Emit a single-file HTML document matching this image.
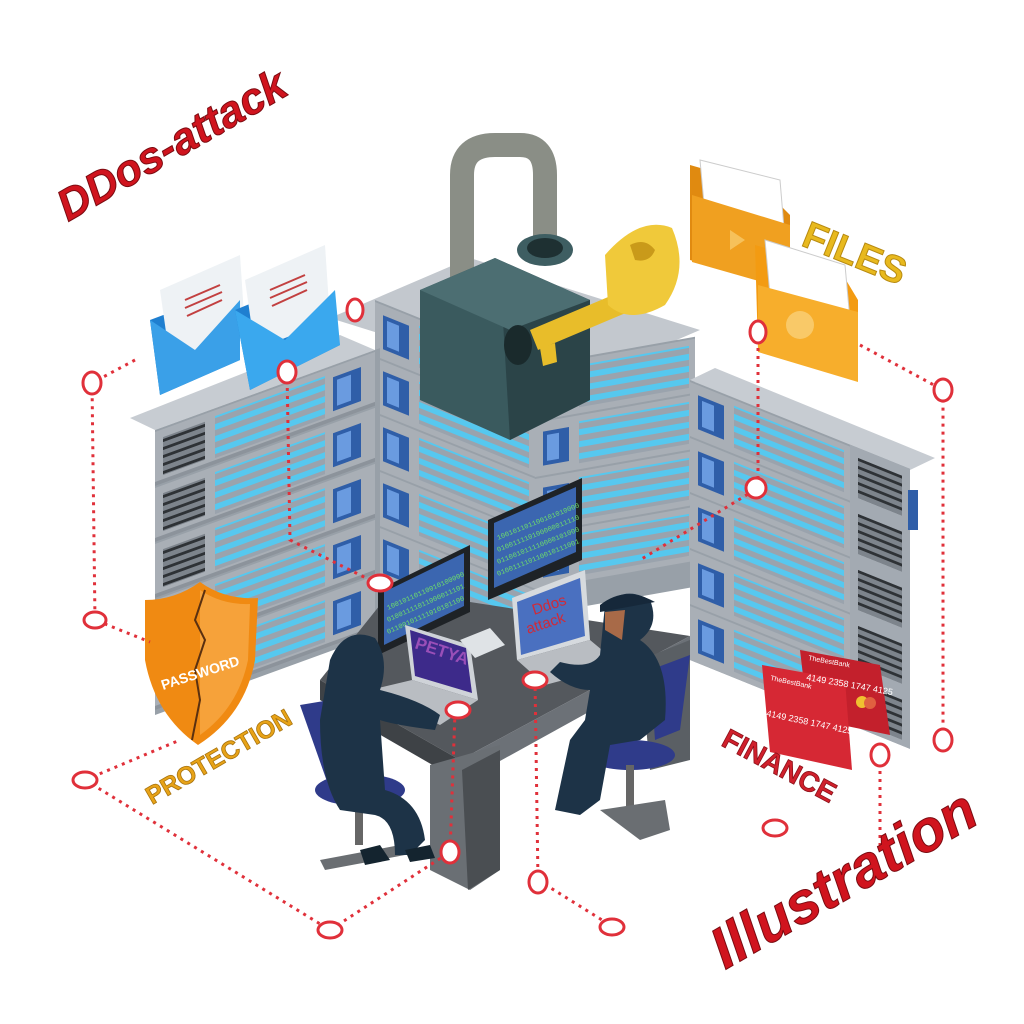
<!DOCTYPE html>
<html><head><meta charset="utf-8"><style>html,body{margin:0;padding:0;background:#fff}svg{display:block}</style></head>
<body>
<svg width="1024" height="1024" viewBox="0 0 1024 1024" xmlns="http://www.w3.org/2000/svg" font-family="Liberation Sans, sans-serif">
<defs>
<pattern id="stripes" width="10" height="12" patternUnits="userSpaceOnUse"><rect width="10" height="12" fill="#9aa3ad"/><rect y="2" width="10" height="6" fill="#56c8ef"/></pattern>
<pattern id="vent" width="10" height="8" patternUnits="userSpaceOnUse"><rect width="10" height="8" fill="#7d848c"/><rect y="2" width="10" height="3" fill="#2e3236"/></pattern>
<g id="row">
<rect x="0" y="0" width="220" height="54" fill="#a9afb6"/>
<rect x="0" y="50" width="220" height="4" fill="#8c939b"/>
<rect x="8" y="8" width="42" height="38" fill="url(#vent)"/>
<rect x="60" y="6" width="110" height="42" fill="url(#stripes)"/>
<rect x="178" y="10" width="28" height="34" fill="#2f5ea8"/>
<rect x="182" y="14" width="14" height="26" fill="#6a9be0"/>
</g>
<g id="crow">
<rect x="0" y="0" width="160" height="54" fill="#a9afb6"/>
<rect x="8" y="10" width="26" height="34" fill="#2f5ea8"/>
<rect x="12" y="14" width="12" height="26" fill="#6a9be0"/>
<rect x="44" y="6" width="110" height="42" fill="url(#stripes)"/>
</g>
</defs>
<rect width="1024" height="1024" fill="#fff"/>

<!-- center back racks -->
<polygon points="330,318 470,258 700,330 560,390" fill="#c3c8ce"/>
<g transform="translate(375,300) skewY(22)">
<rect x="0" y="0" width="160" height="275" fill="#98a0a8"/>
<use href="#crow" y="2"/><use href="#crow" y="58"/><use href="#crow" y="114"/><use href="#crow" y="170"/><use href="#crow" y="226"/>
</g>
<g transform="translate(535,365) skewY(-10)">
<rect x="0" y="0" width="160" height="250" fill="#98a0a8"/>
<use href="#crow" y="2"/><use href="#crow" y="58"/><use href="#crow" y="114"/><use href="#crow" y="170"/>
</g>

<!-- right rack -->
<polygon points="690,380 715,368 935,458 910,470" fill="#c7ccd2"/>
<g transform="translate(690,380) skewY(22)">
<rect x="0" y="0" width="220" height="280" fill="#98a0a8"/>
<use href="#crow" y="2"/>
<use href="#crow" y="58"/><use href="#crow" y="114"/><use href="#crow" y="170"/><use href="#crow" y="226"/>
<rect x="160" y="0" width="60" height="280" fill="#a3aab2"/>
<rect x="168" y="10" width="44" height="40" fill="url(#vent)"/>
<rect x="168" y="66" width="44" height="40" fill="url(#vent)"/>
<rect x="168" y="122" width="44" height="40" fill="url(#vent)"/>
<rect x="168" y="178" width="44" height="40" fill="url(#vent)"/>
<rect x="168" y="234" width="44" height="40" fill="url(#vent)"/>
</g>
<rect x="908" y="490" width="10" height="40" fill="#2f5ea8"/>

<!-- left rack -->
<polygon points="155,430 375,350 340,335 130,418" fill="#c7ccd2"/>
<g transform="translate(155,430) skewY(-20)">
<rect x="0" y="0" width="225" height="285" fill="#98a0a8"/>
<use href="#row" y="2"/><use href="#row" y="58"/><use href="#row" y="114"/><use href="#row" y="170"/><use href="#row" y="226"/>
</g>

<!-- padlock -->
<path d="M462,290 L462,175 Q462,145 495,145 L520,145 Q545,145 545,175 L545,240" fill="none" stroke="#8a8e86" stroke-width="24"/>
<polygon points="420,290 495,258 590,300 590,400 510,440 420,400" fill="#3a5a5e"/>
<polygon points="500,270 590,300 590,400 510,440" fill="#2b4448"/>
<polygon points="420,290 495,258 590,300 510,330" fill="#4c6e72"/>
<ellipse cx="545" cy="250" rx="28" ry="16" fill="#3e5e62"/>
<ellipse cx="545" cy="248" rx="18" ry="10" fill="#1e3032"/>
<ellipse cx="518" cy="345" rx="14" ry="20" fill="#1a2a2c"/>
<!-- key -->
<polygon points="530,330 620,292 628,312 538,350" fill="#e8bd2a"/>
<polygon points="540,348 555,343 557,362 543,366" fill="#e8bd2a"/>
<path d="M605,255 Q640,215 672,228 Q690,270 665,305 Q630,325 608,305 Z" fill="#f0c93a"/>
<path d="M630,245 Q645,237 655,250 Q650,263 635,260 Z" fill="#c99a1a"/>

<!-- folders -->
<polygon points="690,165 760,185 790,215 790,290 690,260" fill="#e08a10"/>
<polygon points="700,160 780,180 785,240 705,215" fill="#fff" stroke="#ccc"/>
<polygon points="692,195 790,225 790,290 692,262" fill="#f0a020"/>
<polygon points="730,230 745,240 730,250" fill="#f6c15a"/>
<polygon points="755,245 840,270 858,300 858,380 758,350" fill="#f39b12"/>
<polygon points="765,240 845,265 850,320 770,295" fill="#fff" stroke="#ccc"/>
<polygon points="758,285 858,312 858,382 758,352" fill="#f7ae2c"/>
<circle cx="800" cy="325" r="14" fill="#f9c968"/>
<text x="0" y="0" font-size="38" font-weight="bold" fill="#e8b91e" stroke="#b78a10" stroke-width="1" transform="translate(800,245) rotate(22)">FILES</text>

<!-- envelopes -->
<polygon points="150,320 230,290 240,360 160,395" fill="#1f7fd0"/>
<polygon points="160,290 240,255 245,330 170,360" fill="#eef2f5"/>
<polygon points="150,320 195,350 240,300 240,360 160,395" fill="#3aa0e8"/>
<polygon points="235,310 320,275 340,345 250,390" fill="#1f7fd0"/>
<polygon points="245,280 325,245 330,320 255,350" fill="#eef2f5"/>
<polygon points="235,310 285,340 335,290 340,345 250,390" fill="#3aa8ee"/>
<g stroke="#c24040" stroke-width="2"><line x1="185" y1="300" x2="220" y2="285"/><line x1="185" y1="308" x2="222" y2="292"/><line x1="187" y1="316" x2="222" y2="300"/><line x1="270" y1="290" x2="305" y2="275"/><line x1="270" y1="298" x2="307" y2="282"/><line x1="272" y1="306" x2="307" y2="290"/></g>

<!-- desk -->
<polygon points="320,680 392,590 690,636 460,760" fill="#54585d"/>
<polygon points="320,680 460,760 462,782 320,700" fill="#3e4246"/>
<polygon points="460,760 690,636 690,656 462,782" fill="#6c7177"/>
<polygon points="430,765 500,745 500,870 470,890 430,870" fill="#6a6f74"/>
<polygon points="462,770 500,750 500,870 468,890" fill="#4a4e52"/>
<polygon points="640,660 690,640 690,760 650,770" fill="#5a5f64"/>

<!-- monitors -->
<polygon points="378,590 470,545 470,612 378,655" fill="#1e2226"/>
<polygon points="384,592 464,553 464,606 384,645" fill="#3b66b0"/>
<polygon points="488,520 582,478 582,560 488,600" fill="#1e2226"/>
<polygon points="494,523 576,487 576,552 494,588" fill="#3b66b0"/>
<g fill="#6fe06a" font-size="7" font-family="Liberation Mono, monospace">
<text transform="translate(498,540) rotate(-22)">100101101100101010000</text>
<text transform="translate(498,552) rotate(-22)">010011110100000011110</text>
<text transform="translate(498,564) rotate(-22)">011001011110000101000</text>
<text transform="translate(498,576) rotate(-22)">010011110110010111001</text>
<text transform="translate(388,610) rotate(-24)">10010110110010100000</text>
<text transform="translate(388,622) rotate(-24)">01001111011000011101</text>
<text transform="translate(388,634) rotate(-24)">01100101111010101100</text>
</g>
<!-- laptops -->
<polygon points="405,625 470,645 478,700 412,680" fill="#cfd3d8"/>
<polygon points="410,630 466,648 472,693 415,676" fill="#3d2a8a"/>
<text transform="translate(414,648) rotate(18)" font-size="17" fill="#9a4fb8" font-weight="bold">PETYA</text>
<polygon points="370,690 412,680 478,700 440,725" fill="#b9bdc2"/>
<polygon points="512,598 585,570 590,640 517,660" fill="#d6dade"/>
<polygon points="517,602 580,578 585,636 521,655" fill="#4a70c0"/>
<text transform="translate(534,615) rotate(-18)" font-size="15" fill="#d02a38">Ddos</text>
<text transform="translate(528,634) rotate(-18)" font-size="15" fill="#d02a38">attack</text>
<polygon points="517,660 590,640 620,665 545,685" fill="#b9bdc2"/>
<polygon points="460,640 490,628 505,645 475,658" fill="#dfe3e6"/>

<!-- left hacker -->
<polygon points="300,705 330,700 355,780 330,790" fill="#2f3b8a"/>
<ellipse cx="360" cy="790" rx="45" ry="16" fill="#2f3b8a"/>
<rect x="355" y="800" width="8" height="45" fill="#666"/>
<polygon points="320,860 400,845 405,855 325,870" fill="#6a6e72"/>
<path d="M330,660 Q345,625 375,638 Q390,660 380,690 Q420,700 440,715 L435,730 Q395,725 380,720 L385,790 Q420,800 425,840 L410,855 L395,855 Q395,820 375,815 L340,810 Q320,780 320,720 Z" fill="#1d3347"/>
<polygon points="360,850 380,845 390,860 365,865" fill="#14242f"/>
<polygon points="405,850 430,845 435,858 410,862" fill="#14242f"/>
<!-- right hacker -->
<polygon points="650,670 690,655 680,730 655,740" fill="#2f3b8a"/>
<ellipse cx="630" cy="755" rx="45" ry="15" fill="#2f3b8a"/>
<rect x="626" y="765" width="8" height="45" fill="#666"/>
<polygon points="600,810 665,800 670,830 640,840" fill="#6a6e72"/>
<path d="M605,605 Q625,585 650,600 Q660,625 640,640 Q670,660 665,720 L640,740 L610,745 L600,800 L580,815 L555,810 L570,740 L585,720 L590,690 Q570,690 550,672 L560,662 Q590,670 600,655 Z" fill="#1d3347"/>
<path d="M600,605 Q625,585 655,602 L600,612 Z" fill="#16283a"/>
<polygon points="605,612 625,610 622,640 605,630" fill="#a86a48"/>

<!-- shield -->
<path d="M200,582 Q225,600 258,598 L255,660 Q245,715 198,745 Q155,715 145,660 L145,600 Q175,600 200,582 Z" fill="#f08a12"/>
<path d="M200,590 Q222,605 250,604 L248,660 Q238,708 200,735 Z" fill="#f6a23a"/>
<path d="M205,590 L195,620 L205,640 L195,670 L200,700 L192,740" stroke="#5a3010" stroke-width="2" fill="none"/>
<text transform="translate(163,690) rotate(-18)" font-size="14" font-weight="bold" fill="#fff">PASSWORD</text>
<text transform="translate(152,805) rotate(-30)" font-size="25" font-weight="bold" fill="#e8a317" stroke="#a87410" stroke-width="0.8">PROTECTION</text>

<!-- credit cards -->
<polygon points="800,650 880,665 890,735 808,718" fill="#c3202c"/>
<polygon points="762,665 845,680 852,770 770,752" fill="#d62834"/>
<circle cx="862" cy="702" r="6" fill="#f0c030"/><circle cx="870" cy="703" r="6" fill="#e06040"/>
<text transform="translate(766,716) rotate(12)" font-size="9" fill="#fff">4149 2358 1747 4125</text>
<text transform="translate(806,680) rotate(10)" font-size="9" fill="#fff">4149 2358 1747 4125</text>
<text transform="translate(770,680) rotate(12)" font-size="7" fill="#fff">TheBestBank</text>
<text transform="translate(808,660) rotate(10)" font-size="7" fill="#fff">TheBestBank</text>
<text transform="translate(720,745) rotate(28)" font-size="28" font-weight="bold" fill="#d0202c" stroke="#8a1018" stroke-width="0.8">FINANCE</text>

<!-- dotted lines -->
<g fill="none" stroke="#e0303a" stroke-width="3" stroke-dasharray="3 5">
<polyline points="135,360 92,383 95,620 150,642"/>
<polyline points="287,372 290,540 380,585"/>
<polyline points="758,332 758,488 640,560"/>
<polyline points="860,345 943,390 943,740"/>
<polyline points="85,780 330,930 450,852 455,712"/>
<polyline points="85,780 180,740"/>
<polyline points="535,680 538,880 610,925"/>
<polyline points="880,755 880,845"/>
</g>
<g fill="#fff" stroke="#e0303a" stroke-width="3">
<ellipse cx="92" cy="383" rx="9" ry="11"/>
<ellipse cx="287" cy="372" rx="9" ry="11"/>
<ellipse cx="355" cy="310" rx="8" ry="11"/>
<ellipse cx="758" cy="332" rx="8" ry="11"/>
<ellipse cx="756" cy="488" rx="10" ry="10"/>
<ellipse cx="943" cy="390" rx="9" ry="11"/>
<ellipse cx="943" cy="740" rx="9" ry="11"/>
<ellipse cx="95" cy="620" rx="11" ry="8"/>
<ellipse cx="85" cy="780" rx="12" ry="8"/>
<ellipse cx="330" cy="930" rx="12" ry="8"/>
<ellipse cx="450" cy="852" rx="9" ry="11"/>
<ellipse cx="458" cy="710" rx="12" ry="8"/>
<ellipse cx="380" cy="583" rx="12" ry="8"/>
<ellipse cx="535" cy="680" rx="12" ry="8"/>
<ellipse cx="538" cy="882" rx="9" ry="11"/>
<ellipse cx="612" cy="927" rx="12" ry="8"/>
<ellipse cx="880" cy="755" rx="9" ry="11"/>
<ellipse cx="775" cy="828" rx="12" ry="8"/>
</g>

<!-- titles -->
<text transform="translate(68,222) rotate(-30)" font-size="44" font-weight="bold" font-style="italic" fill="#d0141e" stroke="#7a0a10" stroke-width="1">DDos-attack</text>
<text transform="translate(725,970) rotate(-30)" font-size="58" font-weight="bold" font-style="italic" fill="#d0141e" stroke="#7a0a10" stroke-width="1">Illustration</text>
</svg>
</body></html>
